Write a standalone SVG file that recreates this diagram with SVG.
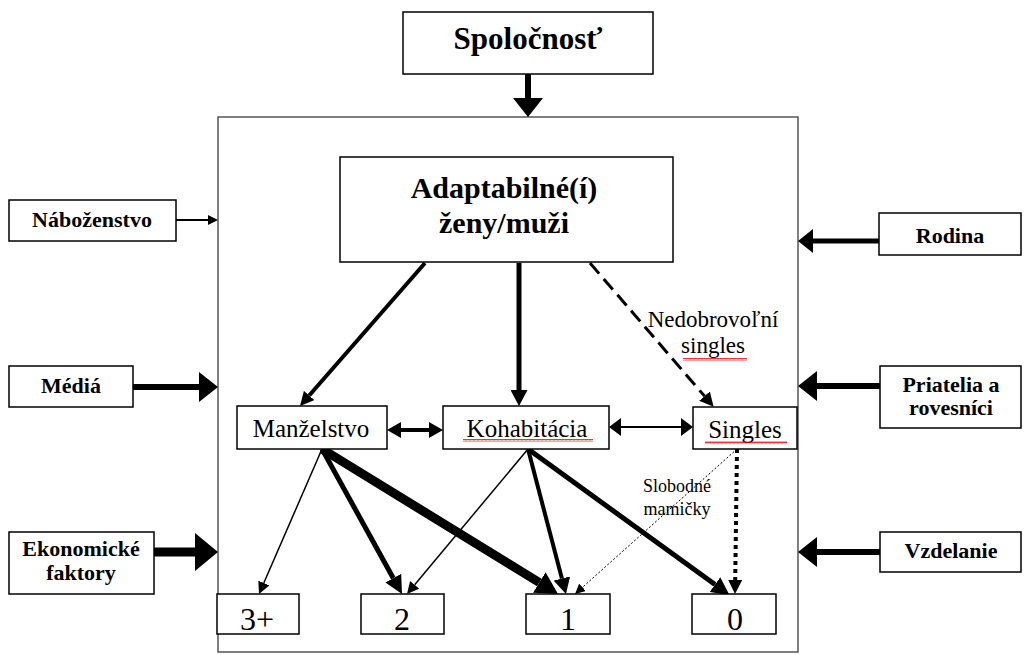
<svg xmlns="http://www.w3.org/2000/svg" width="1026" height="655" viewBox="0 0 1026 655">
<style>
.box{fill:#fff;stroke:#000;stroke-width:1.5}
.frame{fill:none;stroke:#555;stroke-width:1.5}
.b{font-family:"Liberation Serif","Times New Roman",serif;font-weight:bold;fill:#000;text-anchor:middle}
.r{font-family:"Liberation Serif","Times New Roman",serif;fill:#000;text-anchor:middle}
.c{stroke:#000;fill:none}
.hd{fill:#000;stroke:none}
</style>
<defs>
<marker id="h10" markerUnits="userSpaceOnUse" markerWidth="10" markerHeight="10" refX="0" refY="5" orient="auto"><path d="M0,0L10,5L0,10z"/></marker>
<marker id="h12" markerUnits="userSpaceOnUse" markerWidth="12" markerHeight="12" refX="0" refY="6" orient="auto"><path d="M0,0L12,6L0,12z"/></marker>
<marker id="h14" markerUnits="userSpaceOnUse" markerWidth="14" markerHeight="14" refX="0" refY="7" orient="auto"><path d="M0,0L14,7L0,14z"/></marker>
<marker id="h16" markerUnits="userSpaceOnUse" markerWidth="16" markerHeight="17" refX="0" refY="8.5" orient="auto"><path d="M0,0L16,8.5L0,17z"/></marker>
<marker id="h18" markerUnits="userSpaceOnUse" markerWidth="18" markerHeight="18" refX="0" refY="9" orient="auto"><path d="M0,0L18,9L0,18z"/></marker>
<marker id="h12w" markerUnits="userSpaceOnUse" markerWidth="12" markerHeight="18" refX="0" refY="9" orient="auto"><path d="M0,0L12,9L0,18z"/></marker>
<marker id="h14w" markerUnits="userSpaceOnUse" markerWidth="14" markerHeight="16" refX="0" refY="8" orient="auto"><path d="M0,0L14,8L0,16z"/></marker>
<marker id="h15" markerUnits="userSpaceOnUse" markerWidth="15" markerHeight="24" refX="0" refY="12" orient="auto"><path d="M0,0L15,12L0,24z"/></marker>
<marker id="h19" markerUnits="userSpaceOnUse" markerWidth="19" markerHeight="30" refX="0" refY="15" orient="auto"><path d="M0,0L19,15L0,30z"/></marker>
<marker id="h22" markerUnits="userSpaceOnUse" markerWidth="22" markerHeight="24" refX="0" refY="12" orient="auto"><path d="M0,0L22,12L0,24z"/></marker>
<marker id="h23" markerUnits="userSpaceOnUse" markerWidth="23" markerHeight="38" refX="0" refY="19" orient="auto"><path d="M0,0L23,19L0,38z"/></marker>
<pattern id="sq" patternUnits="userSpaceOnUse" width="4" height="3"><path d="M0,2.5L1,0.5L2,2.5L3,0.5L4,2.5" stroke="#e00" stroke-width="0.8" fill="none"/></pattern>
</defs>

<rect class="frame" x="218" y="117" width="580" height="535"/>

<g id="connectors">
<line class="c" x1="528" y1="74" x2="528" y2="98" stroke-width="6" marker-end="url(#h19)"/>
<line class="c" x1="176" y1="220" x2="208" y2="220" stroke-width="2" marker-end="url(#h10)"/>
<line class="c" x1="133" y1="387" x2="199" y2="387" stroke-width="6" marker-end="url(#h19)"/>
<line class="c" x1="154" y1="552" x2="195" y2="552" stroke-width="9" marker-end="url(#h23)"/>
<line class="c" x1="879" y1="241" x2="813" y2="241" stroke-width="5" marker-end="url(#h15)"/>
<line class="c" x1="880" y1="386" x2="817" y2="386" stroke-width="6" marker-end="url(#h19)"/>
<line class="c" x1="880" y1="552" x2="817" y2="552" stroke-width="6" marker-end="url(#h19)"/>

<line class="c" x1="425" y1="263" x2="309.2" y2="395.5" stroke-width="4" marker-end="url(#h14)"/>
<line class="c" x1="519" y1="263" x2="519" y2="390" stroke-width="5" marker-end="url(#h16)"/>
<line class="c" x1="590" y1="263" x2="704.5" y2="396.1" stroke-width="3" stroke-dasharray="14 7" marker-end="url(#h14)"/>

<line class="c" x1="401" y1="430" x2="429" y2="430" stroke-width="4" marker-end="url(#h14w)"/>
<path class="hd" d="M387,430L401,422L401,438z"/>
<line class="c" x1="621" y1="427" x2="681" y2="427" stroke-width="2" marker-end="url(#h12w)"/>
<path class="hd" d="M609,427L621,418L621,436z"/>

<line class="c" x1="322" y1="449" x2="263.8" y2="583" stroke-width="1.5" marker-end="url(#h12)"/>
<line class="c" x1="322" y1="449" x2="393.3" y2="578.2" stroke-width="5" marker-end="url(#h18)"/>
<line class="c" x1="322" y1="449" x2="539.3" y2="582.5" stroke-width="9" marker-end="url(#h22)"/>
<line class="c" x1="528" y1="449" x2="414.7" y2="584.8" stroke-width="1.5" marker-end="url(#h12)"/>
<line class="c" x1="528" y1="449" x2="561.9" y2="578.5" stroke-width="4" marker-end="url(#h16)"/>
<line class="c" x1="528" y1="449" x2="715" y2="584.6" stroke-width="5" marker-end="url(#h18)"/>
<line class="c" x1="737" y1="449" x2="582.5" y2="587.3" stroke-width="1" stroke-dasharray="2 2" marker-end="url(#h10)"/>
<line class="c" x1="737" y1="449" x2="735.2" y2="580" stroke-width="4" stroke-dasharray="4 4" marker-end="url(#h14)"/>
</g>

<g id="spolocnost"><rect class="box" x="403" y="12" width="250" height="62"/><text class="b" x="528" y="49" font-size="31">Spoločnosť</text></g>
<g id="adaptabilne"><rect class="box" x="340" y="157" width="333" height="105"/><text class="b" x="504" y="198" font-size="30">Adaptabilné(í)</text><text class="b" x="504" y="233" font-size="30">ženy/muži</text></g>
<g id="nabozenstvo"><rect class="box" x="9" y="200" width="167" height="41"/><text class="b" x="92" y="227" font-size="22">Náboženstvo</text></g>
<g id="media"><rect class="box" x="9" y="366" width="124" height="41"/><text class="b" x="71" y="393" font-size="22">Médiá</text></g>
<g id="ekonomicke"><rect class="box" x="9" y="532" width="145" height="62"/><text class="b" x="81" y="556" font-size="22">Ekonomické</text><text class="b" x="81" y="580" font-size="22">faktory</text></g>
<g id="rodina"><rect class="box" x="879" y="213" width="142" height="42"/><text class="b" x="950" y="243" font-size="22">Rodina</text></g>
<g id="priatelia"><rect class="box" x="880" y="366" width="141" height="62"/><text class="b" x="951" y="392" font-size="22">Priatelia a</text><text class="b" x="951" y="415" font-size="22">rovesníci</text></g>
<g id="vzdelanie"><rect class="box" x="880" y="532" width="141" height="40"/><text class="b" x="951" y="558" font-size="22">Vzdelanie</text></g>

<g id="manzelstvo"><rect class="box" x="237" y="406" width="150" height="43"/><text class="r" x="311" y="437" font-size="25">Manželstvo</text></g>
<g id="kohabitacia"><rect class="box" x="443" y="406" width="166" height="43"/><text class="r" x="527" y="437" font-size="25">Kohabitácia</text><rect x="463" y="439" width="130" height="3" fill="url(#sq)"/></g>
<g id="singles"><rect class="box" x="693" y="407" width="104" height="42"/><text class="r" x="745" y="438" font-size="25">Singles</text><rect x="705" y="441" width="82" height="3" fill="url(#sq)"/></g>

<g id="n3"><rect class="box" x="217" y="594" width="82" height="40"/><text class="r" x="257" y="630" font-size="32">3+</text></g>
<g id="n2"><rect class="box" x="361" y="594" width="83" height="40"/><text class="r" x="402" y="630" font-size="32">2</text></g>
<g id="n1"><rect class="box" x="526" y="594" width="84" height="40"/><text class="r" x="568" y="630" font-size="32">1</text></g>
<g id="n0"><rect class="box" x="692" y="594" width="84" height="40"/><text class="r" x="735" y="630" font-size="32">0</text></g>

<g id="label-nedobrovolni"><text class="r" x="713" y="327" font-size="23">Nedobrovoľní</text><text class="r" x="713" y="353" font-size="23">singles</text><rect x="683" y="358" width="64" height="3" fill="url(#sq)"/></g>
<g id="label-slobodne"><text class="r" x="677" y="492" font-size="18">Slobodné</text><text class="r" x="677" y="515" font-size="18">mamičky</text></g>
</svg>
